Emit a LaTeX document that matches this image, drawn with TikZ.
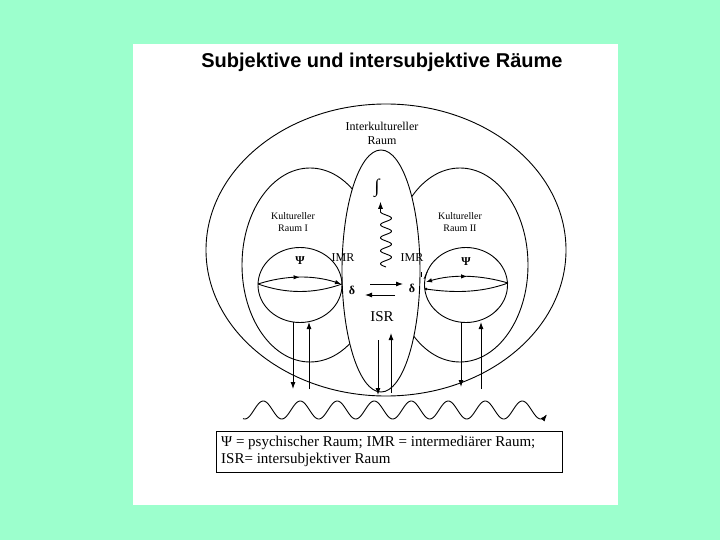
\documentclass[tikz,border=0pt]{standalone}
\usepackage{fontspec}
\setmainfont{Liberation Serif}
\newfontfamily\titlefont{Liberation Sans}
\usetikzlibrary{arrows.meta,decorations.markings}
\definecolor{bggreen}{RGB}{156,255,205}
\begin{document}
\begin{tikzpicture}[x=1pt,y=-1pt,
  line/.style={line width=0.9pt},
  arr/.style={line width=0.9pt,-{Latex[length=7pt,width=5pt]}},
  midarrow/.style={postaction={decorate},decoration={markings,
     mark=at position 0.5 with {\arrow{Latex[length=6pt,width=4.5pt]}}}},
  lbl/.style={inner sep=0pt,align=center},
  small/.style={lbl,font=\fontsize{10}{12}\selectfont},
  mid/.style={lbl,font=\fontsize{12}{14}\selectfont}
]
\useasboundingbox (0,0) rectangle (720,540);
\fill[bggreen] (0,0) rectangle (720,540);
\fill[white] (133,44) rectangle (618,505);

% title
\node[lbl,font=\titlefont\bfseries\fontsize{20}{24}\selectfont] (title) at (382,62) {Subjektive und intersubjektive Räume};

% outer ellipse and lobes
\draw[line] (386,250) ellipse [x radius=180, y radius=146];
\draw[line] (310,265) ellipse [x radius=68, y radius=97];
\draw[line] (460,265) ellipse [x radius=68, y radius=97];
% central ellipse (ISR)
\filldraw[line,fill=white] (381,271) ellipse [x radius=39, y radius=121];

% psychic spaces
\draw[line] (300,285) ellipse [x radius=42, y radius=37.5];
\draw[line] (466,285) ellipse [x radius=41.5, y radius=37.5];

% lenses
\draw[line,midarrow,-{Latex[length=6pt,width=4.5pt]}] (258,284) .. controls (286,275) and (314,275) .. (341,284);
\draw[line] (258,284) .. controls (286,294) and (314,294) .. (342,284);
\draw[line,midarrow,{Latex[length=6pt,width=4.5pt]}-] (426,282) .. controls (453,274) and (481,275) .. (508,283);
\draw[line] (426,289) .. controls (453,293) and (481,293) .. (508,283);
\fill (426,289) circle (1.5);
\draw[line width=0.7pt] (421,272) -- (421,277);
\draw[line width=0.7pt] (424,279) -- (427,272);

% delta arrows
\coordinate (dr1) at (370,284); \coordinate (dr2) at (403,284);
\coordinate (dl1) at (395,295); \coordinate (dl2) at (365,295);
\draw[arr] (dr1) -- (dr2);
\draw[arr] (dl1) -- (dl2);

% squiggle
\draw[arr] plot[domain=0:55.25, samples=140] ({386+5.5*sin(deg(-2*pi*\x/13))}, {267-\x}) -- ++(0,-10);

% vertical arrows
\coordinate (a1s) at (293,322); \coordinate (a1e) at (293,389);
\coordinate (a2s) at (309,389); \coordinate (a2e) at (309,322);
\coordinate (a3s) at (378,340); \coordinate (a3e) at (378,395);
\coordinate (a4s) at (391,393); \coordinate (a4e) at (391,333);
\coordinate (a5s) at (461,322); \coordinate (a5e) at (461,387);
\coordinate (a6s) at (481,389); \coordinate (a6e) at (481,322);
\draw[arr] (a1s) -- (a1e);
\draw[arr] (a2s) -- (a2e);
\draw[arr] (a3s) -- (a3e);
\draw[arr] (a4s) -- (a4e);
\draw[arr] (a5s) -- (a5e);
\draw[arr] (a6s) -- (a6e);

% wave
\draw[arr] plot[domain=243:547, samples=300] (\x, {410-9*sin(deg(2*pi*(\x-254)/37))});

% labels
\node[mid] (inter) at (382,133) {Interkultureller\\Raum};
\node[small] (kr1) at (293,222) {Kultureller\\Raum I};
\node[small] (kr2) at (460,222) {Kultureller\\Raum II};
\node[mid] (imr1) at (343,258) {IMR};
\node[mid] (imr2) at (412,258) {IMR};
\node[mid,font=\bfseries\fontsize{12}{14}\selectfont] (psi1) at (300,261) {Ψ};
\node[mid,font=\bfseries\fontsize{12}{14}\selectfont] (psi2) at (466,262) {Ψ};
\node[mid,font=\bfseries\fontsize{12}{14}\selectfont] (del1) at (352,290) {δ};
\node[mid,font=\bfseries\fontsize{12}{14}\selectfont] (del2) at (412,288) {δ};
\node[lbl,font=\fontsize{15}{17}\selectfont] (isr) at (382,317) {ISR};
\node[lbl,font=\fontsize{19}{21}\selectfont] (int) at (377,188) {∫};

% legend
\draw[line width=1pt] (216,431) rectangle (562,472);
\node[lbl,anchor=west,font=\fontsize{15}{17}\selectfont] (leg1) at (221,443) {Ψ = psychischer Raum; IMR = intermediärer Raum;};
\node[lbl,anchor=west,font=\fontsize{15}{17}\selectfont] (leg2) at (221,460) {ISR= intersubjektiver Raum};
\end{tikzpicture}
\end{document}
